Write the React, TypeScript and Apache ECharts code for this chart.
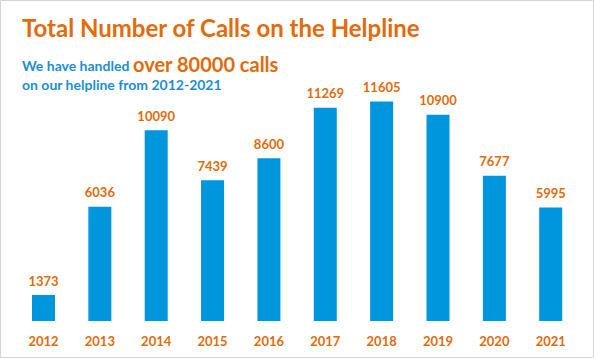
import React, { useEffect, useRef } from "react";
import * as echarts from "echarts";

const years = ["2012", "2013", "2014", "2015", "2016", "2017", "2018", "2019", "2020", "2021"];
const calls = [1373, 6036, 10090, 7439, 8600, 11269, 11605, 10900, 7677, 5995];
const titleText = "Total Number of Calls on the Helpline";
const subLine1a = "We have handled";
const subLine1b = "over 80000 calls";
const subLine2 = "on our helpline from 2012-2021";

const ORANGE = "#E26B0A";
const BLUE_TEXT = "#1B8FD6";
const BAR = "#0096DE";
const FONT = "Lato";

export default function App() {
  const ref = useRef<HTMLDivElement>(null);
  useEffect(() => {
    document.body.style.margin = "0";
    const chart = echarts.init(ref.current!, null, { renderer: "svg" });
    chart.setOption({
      animation: false,
      backgroundColor: "#ffffff",
      grid: { left: 15.3, right: 15.1, top: 94, bottom: 37 },
      xAxis: {
        type: "category",
        data: years,
        axisLine: { show: false },
        axisTick: { show: false },
        axisLabel: {
          color: ORANGE,
          fontFamily: FONT,
          fontWeight: "bold",
          fontSize: 13,
          margin: 13,
        },
      },
      yAxis: {
        type: "value",
        min: 0,
        max: 12000,
        show: false,
        splitLine: { show: false },
      },
      series: [
        {
          type: "bar",
          data: calls,
          barWidth: 23,
          itemStyle: { color: BAR },
          label: {
            show: true,
            position: "top",
            distance: 8,
            color: ORANGE,
            fontFamily: FONT,
            fontWeight: "bold",
            fontSize: 13,
          },
        },
      ],
      graphic: [
        {
          type: "rect",
          shape: { x: 0.5, y: 0.5, width: 593, height: 357 },
          style: { fill: "none", stroke: "#D4D4D4", lineWidth: 1 },
          silent: true,
        },
        {
          type: "text",
          x: 22,
          y: 27.5,
          style: {
            text: titleText,
            fill: ORANGE,
            font: `bold 24px ${FONT}`,
            verticalAlign: "middle",
          },
        },
        {
          type: "text",
          x: 22,
          y: 65.5,
          style: {
            text: subLine1a,
            fill: BLUE_TEXT,
            font: `bold 14px ${FONT}`,
            verticalAlign: "middle",
          },
        },
        {
          type: "text",
          x: 133,
          y: 63.5,
          style: {
            text: subLine1b,
            fill: ORANGE,
            font: `bold 20px ${FONT}`,
            verticalAlign: "middle",
          },
        },
        {
          type: "text",
          x: 22,
          y: 84.5,
          style: {
            text: subLine2,
            fill: BLUE_TEXT,
            font: `bold 14px ${FONT}`,
            verticalAlign: "middle",
          },
        },
      ],
    });
    return () => chart.dispose();
  }, []);
  return <div ref={ref} style={{ position: "absolute", left: 0, top: 0, width: 594, height: 358 }} />;
}
